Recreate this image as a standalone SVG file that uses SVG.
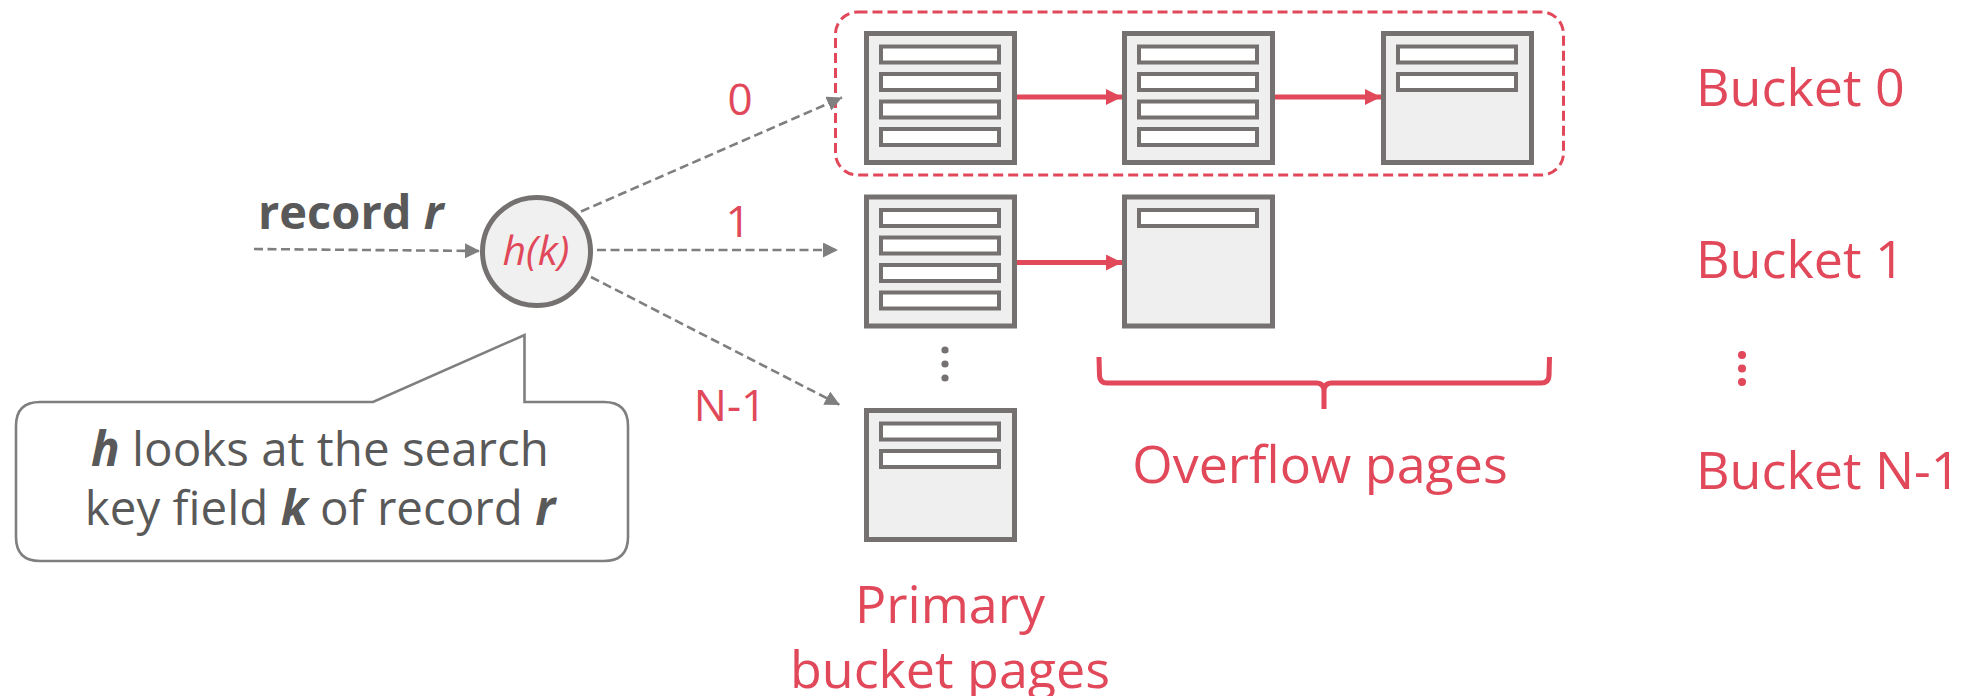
<svg xmlns="http://www.w3.org/2000/svg" width="1962" height="696" viewBox="0 0 1962 696">
<style>
text{font-family:"Open Sans","Noto Sans","Liberation Sans",sans-serif}
.red{fill:#e1485a}
.gry{fill:#595959}
.page{fill:#efefef;stroke:#767171;stroke-width:5}
.slot{fill:#ffffff;stroke:#767171;stroke-width:4}
.dash{fill:none;stroke:#7f7f7f;stroke-width:2.6;stroke-dasharray:9 4.5}
.rarr{fill:none;stroke:#e1485a;stroke-width:5}
.lbl{font-size:52px}
.num{font-size:44px}
</style>
<defs>
<marker id="ga" markerUnits="userSpaceOnUse" markerWidth="16" markerHeight="16" refX="15" refY="7.5" orient="auto"><path d="M0,0 L15,7.5 L0,15 z" fill="#7f7f7f"/></marker>
<marker id="ra" markerUnits="userSpaceOnUse" markerWidth="17" markerHeight="17" refX="16" refY="8" orient="auto"><path d="M0,0 L16,8 L0,16 z" fill="#e1485a"/></marker>
</defs>

<g id="bucket0-group">
<rect x="835.5" y="12" width="728" height="163" rx="22" fill="none" stroke="#e1485a" stroke-width="3" stroke-dasharray="10 5"/>
</g>

<g id="b0p0">
<rect class="page" x="866.5" y="33.5" width="148" height="129"/>
<rect class="slot" x="881" y="46.5" width="118" height="16"/>
<rect class="slot" x="881" y="74" width="118" height="16"/>
<rect class="slot" x="881" y="101.5" width="118" height="16"/>
<rect class="slot" x="881" y="129" width="118" height="16"/>
</g>
<g id="b0p1">
<rect class="page" x="1124.5" y="33.5" width="148" height="129"/>
<rect class="slot" x="1139" y="46.5" width="118" height="16"/>
<rect class="slot" x="1139" y="74" width="118" height="16"/>
<rect class="slot" x="1139" y="101.5" width="118" height="16"/>
<rect class="slot" x="1139" y="129" width="118" height="16"/>
</g>
<g id="b0p2">
<rect class="page" x="1383.5" y="33.5" width="148" height="129"/>
<rect class="slot" x="1398" y="46.5" width="118" height="16"/>
<rect class="slot" x="1398" y="74" width="118" height="16"/>
</g>

<g id="b1p0">
<rect class="page" x="866.5" y="197" width="148" height="129"/>
<rect class="slot" x="881" y="210" width="118" height="16"/>
<rect class="slot" x="881" y="237.5" width="118" height="16"/>
<rect class="slot" x="881" y="265" width="118" height="16"/>
<rect class="slot" x="881" y="292.5" width="118" height="16"/>
</g>
<g id="b1p1">
<rect class="page" x="1124.5" y="197" width="148" height="129"/>
<rect class="slot" x="1139" y="210" width="118" height="16"/>
</g>

<g id="bNp0">
<rect class="page" x="866.5" y="410.5" width="148" height="129"/>
<rect class="slot" x="881" y="423.5" width="118" height="16"/>
<rect class="slot" x="881" y="451" width="118" height="16"/>
</g>

<g id="vdots" fill="#767171">
<circle cx="945" cy="350" r="3.6"/>
<circle cx="945" cy="364" r="3.6"/>
<circle cx="945" cy="378" r="3.6"/>
</g>

<g id="hash">
<circle cx="536.5" cy="251.5" r="54" fill="#f0f0f0" stroke="#767171" stroke-width="5"/>
<text x="536" y="265" text-anchor="middle" font-size="41" font-style="italic" class="red">h(k)</text>
</g>

<g id="record-label">
<text x="258" y="229" font-size="47" font-weight="700" class="gry">record <tspan font-style="italic">r</tspan></text>
</g>

<g id="callout">
<path d="M40,402 L373,402 L524.5,335 L524.5,402 L604,402 Q628,402 628,426 L628,537 Q628,561 604,561 L40,561 Q16,561 16,537 L16,426 Q16,402 40,402 Z" fill="#ffffff" stroke="#7f7f7f" stroke-width="2.6"/>
<text x="320" y="466" text-anchor="middle" font-size="47.5" class="gry"><tspan font-weight="700" font-style="italic">h</tspan> looks at the search</text>
<text x="320" y="525" text-anchor="middle" font-size="47.5" class="gry">key field <tspan font-weight="700" font-style="italic">k</tspan> of record <tspan font-weight="700" font-style="italic">r</tspan></text>
</g>

<g id="connectors">
<line class="dash" x1="254" y1="249" x2="480" y2="251" marker-end="url(#ga)"/>
<line class="dash" x1="581" y1="211.5" x2="842" y2="97.5" marker-end="url(#ga)"/>
<line class="dash" x1="597" y1="250" x2="838" y2="250" marker-end="url(#ga)"/>
<line class="dash" x1="591" y1="277" x2="840" y2="405" marker-end="url(#ga)"/>
<line class="rarr" x1="1017" y1="97" x2="1122" y2="97" marker-end="url(#ra)"/>
<line class="rarr" x1="1275" y1="97" x2="1381" y2="97" marker-end="url(#ra)"/>
<line class="rarr" x1="1017" y1="262.5" x2="1122" y2="262.5" marker-end="url(#ra)"/>
</g>

<g id="hash-labels">
<text x="740" y="115" text-anchor="middle" class="red num">0</text>
<text x="738" y="237" text-anchor="middle" class="red num">1</text>
<text x="730" y="421" text-anchor="middle" class="red num">N-1</text>
</g>

<g id="brace">
<path d="M1099,357 L1099.5,376 Q1100,383 1107,383 L1316,383 Q1324,383 1324,391 L1324,409 M1324,391 Q1324,383 1332,383 L1541,383 Q1548.5,383 1549,376 L1549.5,357" fill="none" stroke="#e1485a" stroke-width="5"/>
<text x="1320" y="483" text-anchor="middle" class="red lbl">Overflow pages</text>
</g>

<g id="primary-label">
<text x="950" y="623" text-anchor="middle" class="red lbl">Primary</text>
<text x="950" y="688" text-anchor="middle" class="red lbl">bucket pages</text>
</g>

<g id="bucket-labels">
<text x="1696" y="106" class="red lbl">Bucket 0</text>
<text x="1696" y="278" class="red lbl">Bucket 1</text>
<circle cx="1742" cy="355" r="4" fill="#e1485a"/>
<circle cx="1742" cy="368.5" r="4" fill="#e1485a"/>
<circle cx="1742" cy="382" r="4" fill="#e1485a"/>
<text x="1696" y="489" class="red lbl">Bucket N-1</text>
</g>
</svg>
